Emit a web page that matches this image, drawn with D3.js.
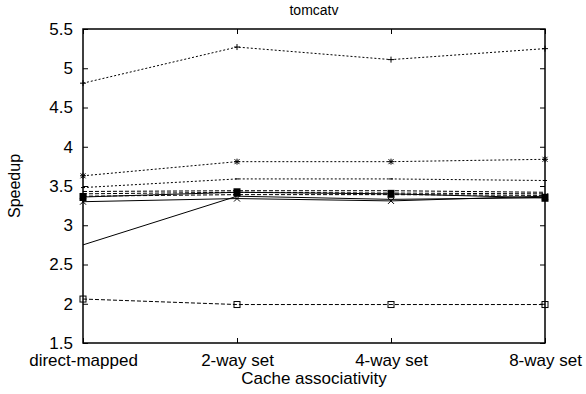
<!DOCTYPE html>
<html>
<head>
<meta charset="utf-8">
<script src="https://cdn.jsdelivr.net/npm/d3@7"></script>
<style>
  body { margin: 0; background: #fff; }
  text { font-family: "Liberation Sans", Arial, sans-serif; fill: #000; }
</style>
</head>
<body>
<svg id="chart" width="586" height="394"></svg>
<script>
// categories and tick labels
var categories = ["direct-mapped", "2-way set", "4-way set", "8-way set"];
var yTicks = [1.5, 2, 2.5, 3, 3.5, 4, 4.5, 5, 5.5];

// series values (speedup per associativity)
var plusSeries   = [4.81, 5.27, 5.11, 5.25];
var starSeries   = [3.63, 3.81, 3.81, 3.84];
var dotSeries    = [3.48, 3.59, 3.59, 3.57];
var dashA        = [3.43, 3.44, 3.44, 3.42];
var dashB        = [3.40, 3.42, 3.41, 3.40];
var dashC        = [3.37, 3.39, 3.39, 3.38];
var boxSeries    = [3.36, 3.42, 3.40, 3.35];
var crossSeries  = [3.30, 3.34, 3.31, 3.37];
var solidSeries  = [2.75, 3.37, 3.33, 3.35];
var squareSeries = [2.06, 1.99, 1.99, 1.99];

var series = [
  {values: plusSeries, dash: "2,2", marker: "plus"},
  {values: starSeries, dash: "2,2", marker: "star"},
  {values: dotSeries, dash: "2,2", marker: "tick"},
  {values: dashA, dash: "4,2", marker: "none"},
  {values: dashB, dash: "4,2", marker: "none"},
  {values: dashC, dash: "4,2", marker: "none"},
  {values: boxSeries, dash: null, marker: "box"},
  {values: crossSeries, dash: null, marker: "cross"},
  {values: solidSeries, dash: null, marker: "none"},
  {values: squareSeries, dash: "4,2", marker: "square"}
];

var svg = d3.select("#chart");
var margin = {top: 29, right: 41, bottom: 51, left: 83};
var width = 586 - margin.left - margin.right;
var height = 394 - margin.top - margin.bottom;

var x = d3.scalePoint().domain(categories).range([0, width]);
var y = d3.scaleLinear().domain([1.5, 5.5]).range([height, 0]);

var g = svg.append("g")
    .attr("transform", "translate(" + margin.left + "," + margin.top + ")");

// title
svg.append("text")
    .attr("x", margin.left + width / 2)
    .attr("y", 15)
    .attr("text-anchor", "middle")
    .style("font-size", "14px")
    .text("tomcatv");

// axes with inward ticks
g.append("g")
    .attr("transform", "translate(0," + height + ")")
    .call(d3.axisBottom(x).tickSize(-5).tickPadding(11))
    .call(function(a) { a.select(".domain").remove(); })
    .selectAll("text").style("font-size", "17px");

g.append("g")
    .call(d3.axisTop(x).tickSize(-5).tickFormat(""))
    .call(function(a) { a.select(".domain").remove(); });

g.append("g")
    .call(d3.axisLeft(y).tickValues(yTicks).tickSize(-5).tickPadding(10).tickFormat(d3.format("")))
    .call(function(a) { a.select(".domain").remove(); })
    .selectAll("text").style("font-size", "17px");

g.append("g")
    .attr("transform", "translate(" + width + ",0)")
    .call(d3.axisRight(y).tickValues(yTicks).tickSize(-5).tickFormat(""))
    .call(function(a) { a.select(".domain").remove(); });

g.selectAll(".tick line").attr("stroke", "#000");

// frame
g.append("rect")
    .attr("width", width)
    .attr("height", height)
    .attr("fill", "none")
    .attr("stroke", "#000")
    .attr("stroke-width", 1.5);

// axis titles
svg.append("text")
    .attr("x", margin.left + width / 2)
    .attr("y", 384)
    .attr("text-anchor", "middle")
    .style("font-size", "17px")
    .text("Cache associativity");

svg.append("text")
    .attr("transform", "translate(20," + (margin.top + height / 2) + ") rotate(-90)")
    .attr("text-anchor", "middle")
    .style("font-size", "16px")
    .text("Speedup");

// lines
var line = d3.line()
    .x(function(d, i) { return x(categories[i]); })
    .y(function(d) { return y(d); });

series.forEach(function(s) {
  g.append("path")
      .datum(s.values)
      .attr("fill", "none")
      .attr("stroke", "#000")
      .attr("stroke-width", 1)
      .attr("stroke-dasharray", s.dash)
      .attr("d", line);

  var pts = g.append("g").selectAll("g")
      .data(s.values)
      .join("g")
      .attr("transform", function(d, i) { return "translate(" + x(categories[i]) + "," + y(d) + ")"; });

  if (s.marker == "plus") {
    pts.append("path").attr("d", "M-3,0H3M0,-3V3").attr("stroke", "#000");
  } else if (s.marker == "star") {
    pts.append("path").attr("d", "M-3,0H3M0,-3V3M-2.5,-2.5L2.5,2.5M-2.5,2.5L2.5,-2.5").attr("stroke", "#000");
  } else if (s.marker == "tick") {
    pts.append("path").attr("d", "M-2,0H2").attr("stroke", "#000");
  } else if (s.marker == "box") {
    pts.append("rect").attr("x", -3.5).attr("y", -4).attr("width", 7).attr("height", 8).attr("fill", "#000");
  } else if (s.marker == "cross") {
    pts.append("path").attr("d", "M-3,-3L3,3M-3,3L3,-3").attr("stroke", "#000");
  } else if (s.marker == "square") {
    pts.append("rect").attr("x", -3).attr("y", -3).attr("width", 6).attr("height", 6)
        .attr("fill", "none").attr("stroke", "#000");
  }
});
</script>
</body>
</html>
